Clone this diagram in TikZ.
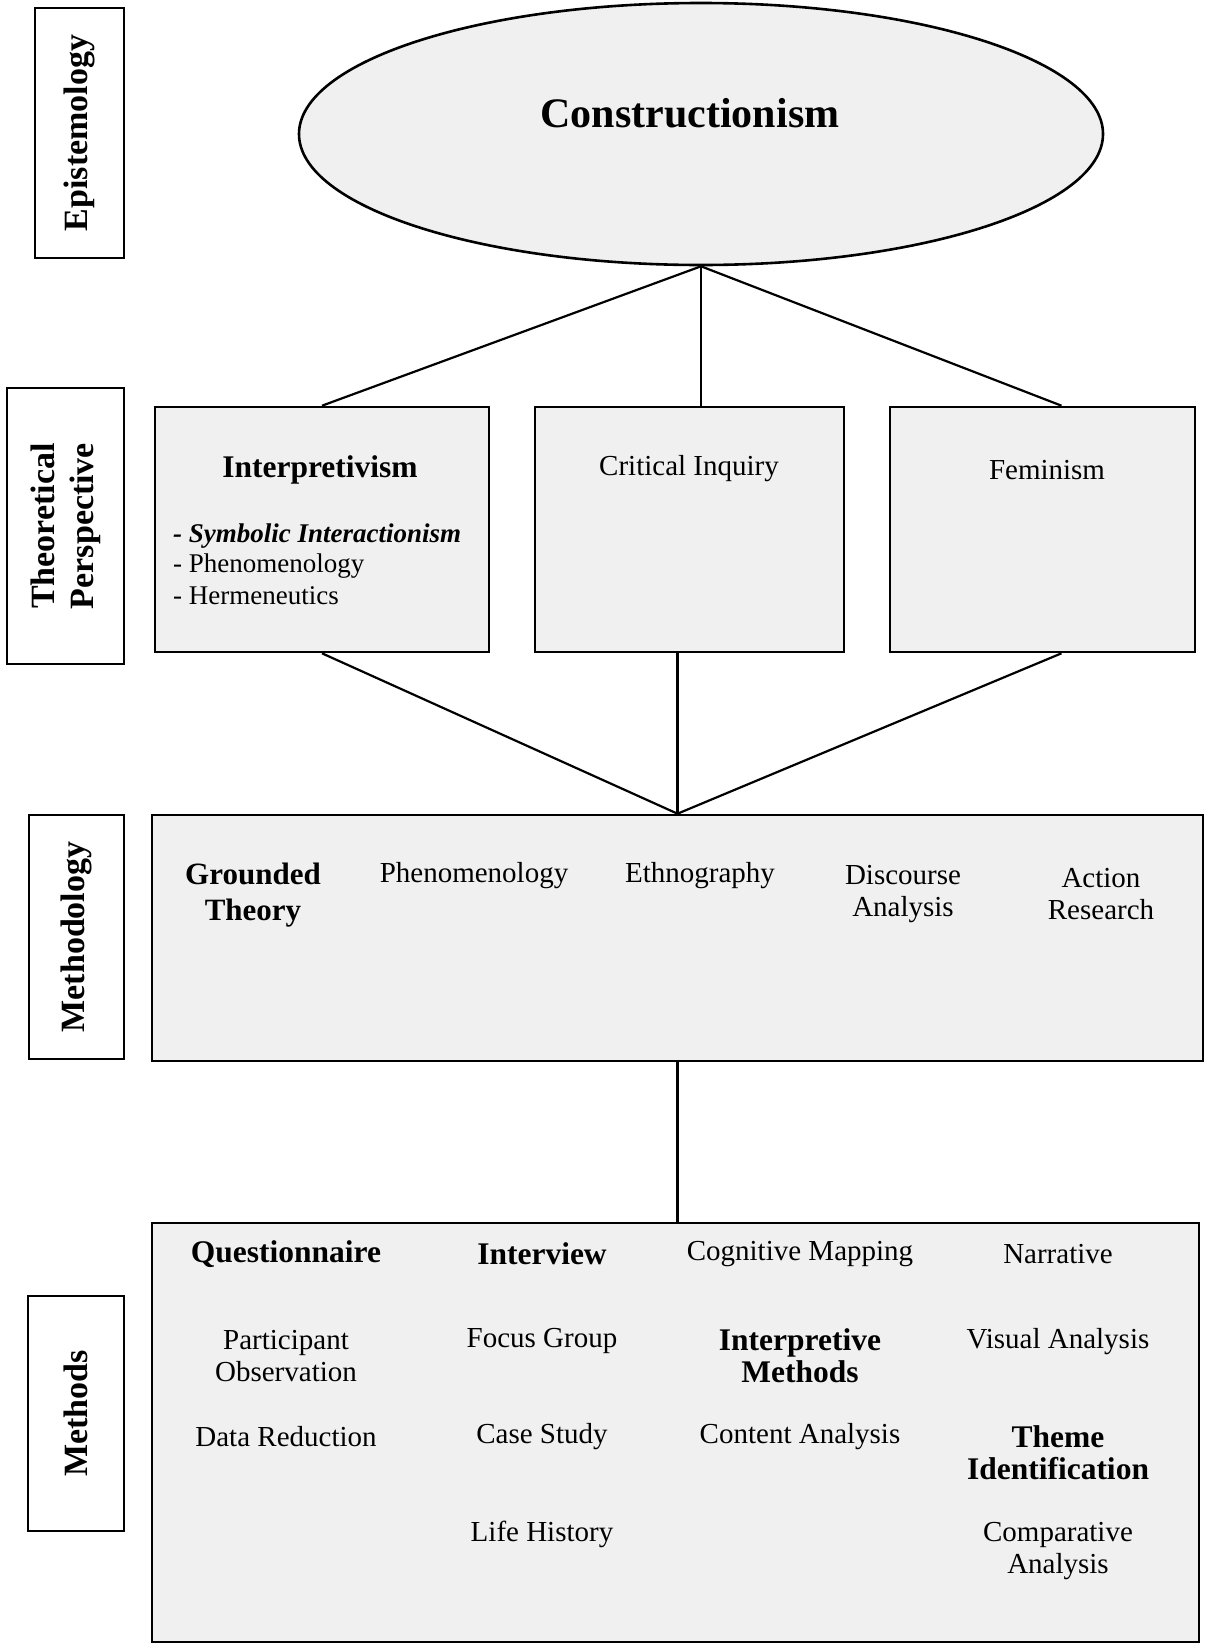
\documentclass[tikz,border=0pt]{standalone}
\usepackage{fontspec}
\setmainfont{Liberation Serif}
\usetikzlibrary{shapes.geometric}
\begin{document}
\begin{tikzpicture}[x=1pt,y=-1pt,
  lab/.style={draw=black, line width=2.6pt, fill=white, rotate=90, inner sep=0pt,
    font=\fontsize{34}{39}\selectfont\bfseries, align=center},
  box/.style={draw=black, line width=2.6pt, fill=black!6, inner sep=0pt},
  conn/.style={draw=black, line width=2.2pt},
  reg/.style={inner sep=0pt, align=center, font=\fontsize{29}{32.5}\selectfont},
  bld/.style={inner sep=0pt, align=center, font=\fontsize{31.5}{31}\selectfont\bfseries},
  sub/.style={inner sep=0pt, anchor=west, font=\fontsize{27}{30}\selectfont}
]
\useasboundingbox (0,0) rectangle (1209,1644);
\fill[white] (0,0) rectangle (1209,1644);

% left labels
\node[lab, minimum width=250pt, minimum height=89pt] (lepi) at (79.5,133) {Epistemology};
\node[lab, minimum width=276pt, minimum height=117pt] (ltheo) at (65.5,526) {Theoretical\\Perspective};
\node[lab, minimum width=244pt, minimum height=95pt] (lmeth) at (76.5,937) {Methodology};
\node[lab, minimum width=235pt, minimum height=96pt] (lmethods) at (76,1413.5) {Methods};

% epistemology
\node[ellipse, draw=black, line width=2.6pt, fill=black!6, minimum width=804pt, minimum height=262pt, inner sep=0pt] (ell) at (701,134) {};
\node[inner sep=0pt, font=\fontsize{42}{48}\selectfont\bfseries] (ctext) at (690,113) {Constructionism};

% theoretical perspective
\node[box, minimum width=334pt, minimum height=245pt] (interp) at (322,529.5) {};
\node[box, minimum width=309pt, minimum height=245pt] (crit) at (689.5,529.5) {};
\node[box, minimum width=305pt, minimum height=245pt] (fem) at (1042.5,529.5) {};

\node[bld] (tinterp) at (320,470) {Interpretivism};
\node[sub, font=\fontsize{27}{30}\selectfont\bfseries\itshape] (tsym) at (173,536) {- Symbolic Interactionism};
\node[sub] (tphen) at (173,566) {- Phenomenology};
\node[sub] (therm) at (173,596) {- Hermeneutics};
\node[reg] (tcrit) at (689,469) {Critical Inquiry};
\node[reg] (tfem) at (1047,470) {Feminism};

% methodology
\node[box, minimum width=1051pt, minimum height=246pt] (meth) at (677.5,938) {};
\node[bld, font=\fontsize{31}{36}\selectfont\bfseries] (mgt) at (253,895) {Grounded\\Theory};
\node[reg] (mphen) at (474,876) {Phenomenology};
\node[reg] (meth2) at (700,876) {Ethnography};
\node[reg] (mdisc) at (903,894) {Discourse\\Analysis};
\node[reg] (mact) at (1101,894) {Action\\Research};

% methods
\node[box, minimum width=1047pt, minimum height=419pt] (methods) at (675.5,1432.5) {};
\node[bld] (q) at (286,1254) {Questionnaire};
\node[bld] (iv) at (542,1254) {Interview};
\node[reg] (cm) at (800,1254) {Cognitive Mapping};
\node[reg] (nar) at (1058,1254) {Narrative};

\node[reg] (po) at (286,1356) {Participant\\Observation};
\node[reg] (fg) at (542,1341) {Focus Group};
\node[bld, font=\fontsize{31.5}{32}\selectfont\bfseries] (im) at (800,1356) {Interpretive\\Methods};
\node[reg] (va) at (1058,1342) {Visual Analysis};

\node[reg] (dr) at (286,1437) {Data Reduction};
\node[reg] (cs) at (542,1437) {Case Study};
\node[reg] (ca) at (800,1437) {Content Analysis};
\node[bld, font=\fontsize{31.5}{32}\selectfont\bfseries] (ti) at (1058,1453) {Theme\\Identification};

\node[reg] (lh) at (542,1534) {Life History};
\node[reg] (comp) at (1058,1551) {Comparative\\Analysis};

% connectors
\draw[conn] (ell.south) -- (interp.north);
\draw[conn] (ell.south) -- (ell.south |- crit.north);
\draw[conn] (ell.south) -- ([xshift=19pt]fem.north);
\draw[conn] (interp.south) -- (meth.north);
\draw[conn] (meth.north |- crit.south) -- (meth.north);
\draw[conn] ([xshift=19pt]fem.south) -- (meth.north);
\draw[conn] (meth.south) -- (meth.south |- methods.north);
\end{tikzpicture}
\end{document}
